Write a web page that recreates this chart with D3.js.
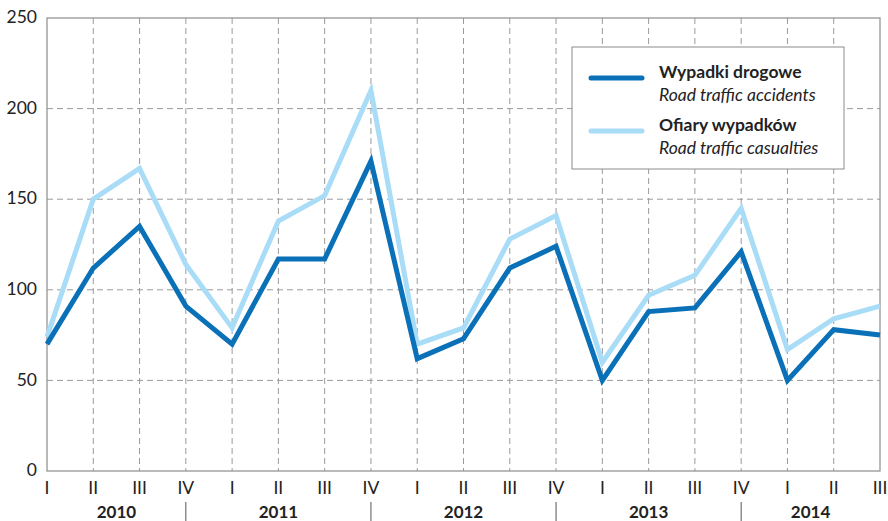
<!DOCTYPE html>
<html>
<head>
    <meta charset="utf-8">
    <title>Wypadki drogowe</title>
    <script src="https://d3js.org/d3.v7.min.js"></script>
    <style>
        body { margin: 0; background: #fff; }
        svg { font-family: Lato, "Open Sans", sans-serif; }
        .grid line { stroke: #9a9a9a; stroke-width: 1; stroke-dasharray: 6,4; }
        .tick-label { font-size: 17.5px; fill: #222; }
        .year-label { font-size: 17px; font-weight: bold; fill: #222; }
    </style>
</head>
<body>
    <div id="graph"></div>
    <script>
        const years = ['2010', '2011', '2012', '2013', '2014'];
        const quarters = ['I', 'II', 'III', 'IV', 'I', 'II', 'III', 'IV', 'I', 'II', 'III', 'IV',
            'I', 'II', 'III', 'IV', 'I', 'II', 'III'];
        const accidents = [70, 112, 135, 91, 70, 117, 117, 171, 62, 73, 112, 124, 50, 88, 90, 121, 50, 78, 75];
        const casualties = [74, 150, 167, 114, 79, 138, 152, 210, 70, 79, 128, 141, 60, 97, 108, 145, 67, 84, 91];
        const yTicks = [0, 50, 100, 150, 200, 250];

        const series = [
            { pl: 'Ofiary wypadków', en: 'Road traffic casualties', values: casualties, color: '#a9dcf6' },
            { pl: 'Wypadki drogowe', en: 'Road traffic accidents', values: accidents, color: '#0a70b7' }
        ];

        const W = 888, H = 521;
        const margin = { top: 18, right: 8, bottom: 50, left: 47 };
        const width = W - margin.left - margin.right;
        const height = H - margin.top - margin.bottom;

        const svg = d3.select('#graph').append('svg')
            .attr('width', W).attr('height', H);
        const g = svg.append('g')
            .attr('transform', 'translate(' + margin.left + ',' + margin.top + ')');

        const idx = quarters.map((q, i) => i);
        const x = d3.scalePoint().domain(idx).range([0, width]);
        const y = d3.scaleLinear().domain([0, 250]).range([height, 0]);

        // grid
        const grid = g.append('g').attr('class', 'grid');
        grid.selectAll('.v').data(idx.slice(1, -1)).enter().append('line')
            .attr('x1', d => x(d)).attr('x2', d => x(d))
            .attr('y1', 0).attr('y2', height);
        grid.selectAll('.h').data(yTicks.slice(1, -1)).enter().append('line')
            .attr('x1', 0).attr('x2', width)
            .attr('y1', d => y(d)).attr('y2', d => y(d));

        // frame
        g.append('rect').attr('width', width).attr('height', height)
            .attr('fill', 'none').attr('stroke', '#8c8c8c').attr('stroke-width', 1.2);

        // y labels
        g.selectAll('.ylab').data(yTicks).enter().append('text')
            .attr('class', 'tick-label')
            .attr('x', -10).attr('y', d => y(d)).attr('dy', '0.3em')
            .attr('text-anchor', 'end')
            .text(d => d);

        // quarter labels
        g.selectAll('.qlab').data(idx).enter().append('text')
            .attr('class', 'tick-label')
            .attr('x', d => x(d)).attr('y', height + 23)
            .attr('text-anchor', 'middle')
            .text(d => quarters[d]);

        // year separators and labels
        const seps = [3, 7, 11, 15];
        g.selectAll('.sep').data(seps).enter().append('line')
            .attr('x1', d => x(d)).attr('x2', d => x(d))
            .attr('y1', height + 31).attr('y2', height + 50)
            .attr('stroke', '#555').attr('stroke-width', 1);
        const bounds = [0].concat(seps.map(d => x(d))).concat([width]);
        g.selectAll('.year').data(years).enter().append('text')
            .attr('class', 'year-label')
            .attr('x', (d, i) => (bounds[i] + bounds[i + 1]) / 2)
            .attr('y', height + 47)
            .attr('text-anchor', 'middle')
            .text(d => d);

        // lines
        const line = d3.line().x((d, i) => x(i)).y(d => y(d));
        g.selectAll('.series').data(series).enter().append('path')
            .attr('d', d => line(d.values))
            .attr('fill', 'none')
            .attr('stroke', d => d.color)
            .attr('stroke-width', 5)
            .attr('stroke-linejoin', 'miter');

        // legend
        const lg = svg.append('g').attr('transform', 'translate(572,47)');
        lg.append('rect').attr('width', 272).attr('height', 122)
            .attr('fill', '#fff').attr('stroke', '#8c8c8c').attr('stroke-width', 1);
        const items = lg.selectAll('.item').data(series.slice().reverse()).enter().append('g')
            .attr('transform', (d, i) => 'translate(0,' + (i * 53) + ')');
        items.append('line')
            .attr('x1', 19).attr('x2', 70).attr('y1', 31).attr('y2', 31)
            .attr('stroke', d => d.color).attr('stroke-width', 5).attr('stroke-linecap', 'round');
        items.append('text')
            .attr('x', 87).attr('y', 31).attr('font-size', 17.5).attr('font-weight', 'bold').attr('fill', '#222')
            .text(d => d.pl);
        items.append('text')
            .attr('x', 87).attr('y', 54).attr('font-size', 17.5).attr('font-style', 'italic').attr('fill', '#222')
            .text(d => d.en);
    </script>
</body>
</html>
